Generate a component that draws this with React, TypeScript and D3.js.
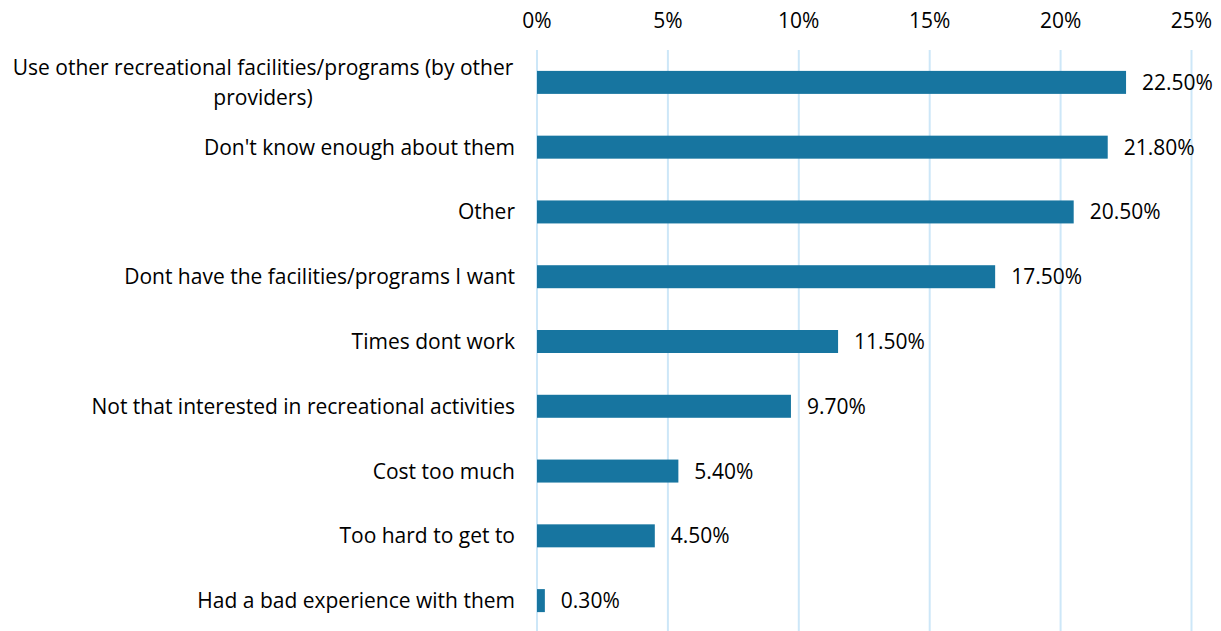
import React from "react";
import * as d3 from "d3";

const categories: string[][] = [
  ["Use other recreational facilities/programs (by other", "providers)"],
  ["Don't know enough about them"],
  ["Other"],
  ["Dont have the facilities/programs I want"],
  ["Times dont work"],
  ["Not that interested in recreational activities"],
  ["Cost too much"],
  ["Too hard to get to"],
  ["Had a bad experience with them"],
];
const values: number[] = [22.5, 21.8, 20.5, 17.5, 11.5, 9.7, 5.4, 4.5, 0.3];
const ticks: number[] = [0, 5, 10, 15, 20, 25];

const W = 1221;
const H = 631;
const FONT = "'Open Sans', sans-serif";
const FS = 21;

export default function App() {
  const x = d3.scaleLinear().domain([0, 25]).range([537, 1191.5]);
  const keys = categories.map((_, i) => String(i));
  const y = d3.scaleBand<string>().domain(keys).range([50, 633]).paddingInner(0.645).paddingOuter(0.3225);
  const bw = y.bandwidth();
  return (
    <div style={{ position: "absolute", left: 0, top: 0 }}>
      <svg width={W} height={H} style={{ display: "block" }}>
        <rect width={W} height={H} fill="#fff" />
        {ticks.map((t) => (
          <g key={t}>
            <line x1={x(t)} x2={x(t)} y1={50} y2={H} stroke="#cde7f8" strokeWidth={2} />
            <text x={x(t)} y={27.5} textAnchor="middle" fontFamily={FONT} fontSize={FS} fill="#000">
              {t}%
            </text>
          </g>
        ))}
        {values.map((v, i) => {
          const yy = y(String(i))!;
          const cy = yy + bw / 2;
          const lines = categories[i];
          return (
            <g key={i}>
              <rect x={x(0)} y={yy} width={x(v) - x(0)} height={bw} fill="#1775a0" />
              <text x={x(v) + 16} y={cy + 7.5} fontFamily={FONT} fontSize={FS} fill="#000">
                {v.toFixed(2)}%
              </text>
              {lines.length === 1 ? (
                <text x={515} y={cy + 7.5} textAnchor="end" fontFamily={FONT} fontSize={FS} fill="#000">
                  {lines[0]}
                </text>
              ) : (
                <text textAnchor="middle" fontFamily={FONT} fontSize={FS} fill="#000">
                  {lines.map((l, j) => (
                    <tspan key={j} x={263} y={cy - 15 + 7.5 + j * 30}>
                      {l}
                    </tspan>
                  ))}
                </text>
              )}
            </g>
          );
        })}
      </svg>
    </div>
  );
}
